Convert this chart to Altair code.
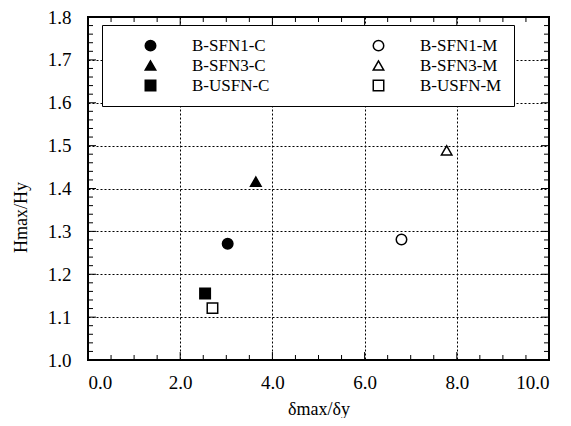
import altair as alt
import pandas as pd

# ---- data ----
series = ["B-SFN1-C", "B-SFN3-C", "B-USFN-C", "B-SFN1-M", "B-SFN3-M", "B-USFN-M"]
ductility = [3.03, 3.64, 2.54, 6.80, 7.78, 2.70]
strength = [1.271, 1.416, 1.155, 1.281, 1.489, 1.121]

shapes = ["circle", "triangle-up", "square", "circle", "triangle-up", "square"]
fills = ["black", "black", "black", "white", "white", "white"]
strokes = ["black"] * 6

x_labels = [0, 2, 4, 6, 8, 10]
y_labels = [1.0, 1.1, 1.2, 1.3, 1.4, 1.5, 1.6, 1.7, 1.8]
x_major_ticks = [2, 4, 6, 8]
x_minor_ticks = [0.5, 1.0, 1.5, 2.5, 3.0, 3.5, 4.5, 5.0, 5.5, 6.5, 7.0, 7.5, 8.5, 9.0, 9.5]
y_major_ticks = [1.1, 1.2, 1.3, 1.4, 1.5, 1.6, 1.7]
y_minor_ticks = [round(1.0 + 0.02 * i, 2) for i in range(1, 40) if i % 5 != 0]

W, H = 461, 343
FONT = "Liberation Serif"

df = pd.DataFrame({"series": series, "x": ductility, "y": strength})
x_scale = alt.Scale(domain=[0, 10], nice=False, zero=False)
y_scale = alt.Scale(domain=[1.0, 1.8], nice=False, zero=False)
x_axis = alt.Axis(values=x_labels, format=".1f", title="δmax/δy", grid=True,
                  titleY=40, titleBaseline="top")
y_axis = alt.Axis(values=y_labels, format=".1f", title="Hmax/Hy", grid=True,
                  titleX=-58, titleY=200)

points = alt.Chart(df).mark_point(
    filled=True, size=110, strokeWidth=1.5, opacity=1
).encode(
    x=alt.X("x:Q", scale=x_scale, axis=x_axis),
    y=alt.Y("y:Q", scale=y_scale, axis=y_axis),
    shape=alt.Shape("series:N", scale=alt.Scale(domain=series, range=shapes),
                    legend=alt.Legend(title=None)),
    fill=alt.Fill("series:N", scale=alt.Scale(domain=series, range=fills),
                  legend=alt.Legend(title=None)),
    stroke=alt.Stroke("series:N", scale=alt.Scale(domain=series, range=strokes),
                      legend=alt.Legend(title=None)),
)

def xticks(vals, length):
    d = pd.DataFrame({"v": vals})
    bottom = alt.Chart(d).mark_rule(color="black", strokeWidth=1).encode(
        x=alt.X("v:Q", scale=x_scale, axis=x_axis), y=alt.value(H), y2=alt.value(H - length))
    top = alt.Chart(d).mark_rule(color="black", strokeWidth=1).encode(
        x=alt.X("v:Q", scale=x_scale, axis=x_axis), y=alt.value(0), y2=alt.value(length))
    return [bottom, top]

def yticks(vals, length):
    d = pd.DataFrame({"v": vals})
    left = alt.Chart(d).mark_rule(color="black", strokeWidth=1).encode(
        y=alt.Y("v:Q", scale=y_scale, axis=y_axis), x=alt.value(0), x2=alt.value(length))
    right = alt.Chart(d).mark_rule(color="black", strokeWidth=1).encode(
        y=alt.Y("v:Q", scale=y_scale, axis=y_axis), x=alt.value(W), x2=alt.value(W - length))
    return [left, right]

layers = [points] + xticks(x_minor_ticks, 5) + xticks(x_major_ticks, 8) \
    + yticks(y_minor_ticks, 5) + yticks(y_major_ticks, 8)

chart = alt.layer(*layers).properties(
    width=W, height=H,
    autosize=alt.AutoSizeParams(type="none"),
    padding={"left": 80, "top": 9, "right": 14, "bottom": 58},
).configure_view(
    stroke="black", strokeWidth=2
).configure_axis(
    domain=False, ticks=False,
    labelFont=FONT, labelFontSize=19, labelColor="black",
    titleFont=FONT, titleFontSize=18, titleFontWeight="normal", titleColor="black",
    gridColor="black", gridDash=[2, 2], gridOpacity=1, gridWidth=1,
).configure_axisX(
    labelPadding=13,
).configure_axisY(
    labelPadding=17,
).configure_legend(
    orient="none", legendX=14, legendY=8, columns=2,
    strokeColor="black", fillColor="white", padding=12,
    columnPadding=72, rowPadding=2,
    symbolOffset=28, labelOffset=33, symbolSize=110,
    symbolStrokeWidth=1.5,
    labelFont=FONT, labelFontSize=17, labelColor="black", labelLimit=200,
)

chart.save("out.html", embed_options={"renderer": "svg", "actions": False})
